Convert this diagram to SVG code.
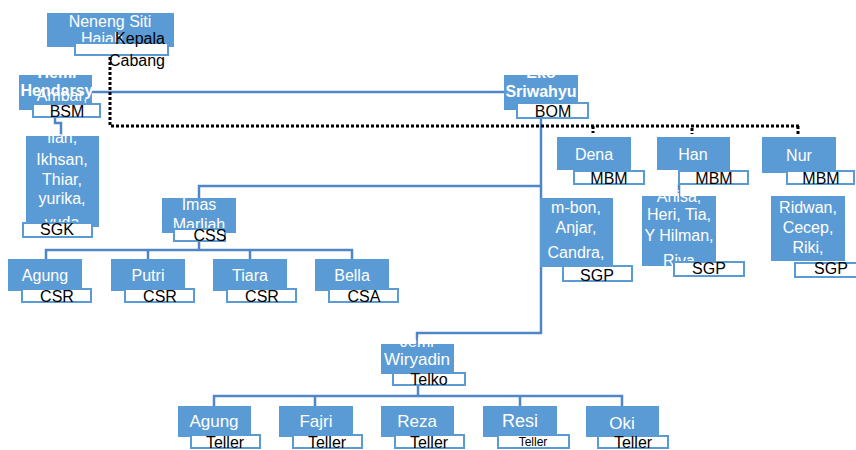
<svg xmlns="http://www.w3.org/2000/svg" width="856" height="450" viewBox="0 0 856 450">
<style>
.box{fill:#5B9BD5}
.lab{fill:#fff;stroke:#5B9BD5;stroke-width:2}
.nm{font-family:"Liberation Sans",Arial,sans-serif;font-size:16px;fill:#fff;text-anchor:middle}
.b{font-weight:bold}
.lt{font-family:"Liberation Sans",Arial,sans-serif;font-size:16px;fill:#000;text-anchor:middle}
.con{fill:none;stroke:#4F86C6;stroke-width:2.5}
.dot{fill:none;stroke:#000;stroke-width:3;stroke-dasharray:3 2}
</style>
<rect width="856" height="450" fill="#fff"/>
<g id="connectors">
<path class="con" d="M92 92 H504"/>
<path class="con" d="M541 118 V333 H417 V344"/>
<path class="con" d="M541 186 H199 V198"/>
<path class="con" d="M199 241 V250 M46 259 V250 H352 V259 M148 250 V259 M250 250 V259"/>
<path class="con" d="M418 385 V396 M214 406 V396 H622 V406 M315 396 V406 M520 396 V406"/>
<path class="con" d="M55 117 V123 H61 V136"/>
<path class="con" d="M679 184 V196"/>
<path class="dot" d="M110 57 V126 H800"/>
<path class="dot" d="M593 126 V133 M692 128 V134 M798 126 V134"/>
</g>
<g id="neneng">
<rect class="box" x="47" y="13" width="127" height="34"/>
<text class="nm" x="110" y="27">Neneng Siti</text>
<text class="nm" x="81" y="44" style="text-anchor:start">Hajah</text>
<rect class="lab" x="75" y="43" width="93" height="12"/>
<text class="lt" x="140" y="44">Kepala</text>
<text class="lt" x="137" y="66">Cabang</text>
</g>
<g id="hemi">
<rect class="box" x="19" y="75" width="73" height="35"/>
<text class="nm b" x="57" y="78">Hemi</text>
<text class="nm b" x="57" y="96">Hendarsy</text>
</g>
<g id="eko">
<rect class="box" x="504" y="75" width="74" height="35"/>
<text class="nm b" x="541" y="78">Eko</text>
<text class="nm b" x="541" y="97">Sriwahyu</text>
<rect class="lab" x="517" y="103" width="71" height="15"/>
<text class="lt" x="553" y="117">BOM</text>
</g>
<g id="sgk">
<rect class="box" x="26" y="136" width="73" height="91"/>
<text class="nm" x="62" y="101">Ambar,</text>
<text class="nm" x="62" y="143">Ilan,</text>
<text class="nm" x="62" y="165">Ikhsan,</text>
<text class="nm" x="62" y="185">Thiar,</text>
<text class="nm" x="62" y="204">yurika,</text>
<text class="nm" x="62" y="228">yuda</text>
<rect class="lab" x="23" y="223" width="69" height="14"/>
<text class="lt" x="57" y="235">SGK</text>
</g>
<g id="hemi-label">
<rect class="lab" x="33" y="104" width="67" height="13"/>
<text class="lt" x="67" y="117">BSM</text>
</g>
<g id="imas">
<rect class="box" x="162" y="198" width="74" height="35"/>
<text class="nm" x="199" y="210">Imas</text>
<text class="nm" x="199" y="230">Marliah</text>
<rect class="lab" x="174" y="229" width="51" height="12"/>
<text class="lt" x="210" y="241">CSS</text>
</g>
<g id="agung1">
<rect class="box" x="8" y="259" width="74" height="32"/>
<text class="nm" x="45" y="281">Agung</text>
<rect class="lab" x="22" y="289" width="69" height="13"/>
<text class="lt" x="57" y="302">CSR</text>
</g>
<g id="putri">
<rect class="box" x="111" y="259" width="74" height="32"/>
<text class="nm" x="148" y="281">Putri</text>
<rect class="lab" x="125" y="289" width="69" height="13"/>
<text class="lt" x="160" y="302">CSR</text>
</g>
<g id="tiara">
<rect class="box" x="213" y="259" width="74" height="32"/>
<text class="nm" x="250" y="281">Tiara</text>
<rect class="lab" x="227" y="289" width="69" height="13"/>
<text class="lt" x="262" y="302">CSR</text>
</g>
<g id="bella">
<rect class="box" x="315" y="259" width="74" height="32"/>
<text class="nm" x="352" y="281">Bella</text>
<rect class="lab" x="329" y="289" width="69" height="13"/>
<text class="lt" x="364" y="302">CSA</text>
</g>
<g id="dena">
<rect class="box" x="557" y="137" width="74" height="33"/>
<text class="nm" x="594" y="160">Dena</text>
<rect class="lab" x="574" y="171" width="70" height="13"/>
<text class="lt" x="609" y="184">MBM</text>
</g>
<g id="han">
<rect class="box" x="657" y="137" width="73" height="33"/>
<text class="nm" x="693" y="160">Han</text>
<rect class="lab" x="679" y="171" width="69" height="13"/>
<text class="lt" x="714" y="184">MBM</text>
</g>
<g id="nur">
<rect class="box" x="762" y="137" width="74" height="36"/>
<text class="nm" x="799" y="161">Nur</text>
<rect class="lab" x="787" y="171" width="67" height="13"/>
<text class="lt" x="821" y="184">MBM</text>
</g>
<g id="sgp-dena">
<rect class="box" x="540" y="198" width="73" height="69"/>
<text class="nm" x="576" y="213">m-bon,</text>
<text class="nm" x="576" y="233">Anjar,</text>
<text class="nm" x="576" y="258">Candra,</text>
<rect class="lab" x="563" y="266" width="69" height="15"/>
<text class="lt" x="597" y="281">SGP</text>
</g>
<g id="sgp-han">
<rect class="box" x="642" y="196" width="74" height="70"/>
<text class="nm" x="679" y="202">Anisa,</text>
<text class="nm" x="679" y="220">Heri, Tia,</text>
<text class="nm" x="679" y="241">Y Hilman,</text>
<text class="nm" x="679" y="266">Riva</text>
<rect class="lab" x="674" y="262" width="70" height="14"/>
<text class="lt" x="709" y="274">SGP</text>
</g>
<g id="sgp-nur">
<rect class="box" x="771" y="196" width="74" height="65"/>
<text class="nm" x="808" y="213">Ridwan,</text>
<text class="nm" x="808" y="233">Cecep,</text>
<text class="nm" x="808" y="253">Riki,</text>
<rect class="lab" x="795" y="263" width="72" height="14"/>
<text class="lt" x="831" y="274">SGP</text>
</g>
<g id="jemi">
<rect class="box" x="381" y="344" width="73" height="30"/>
<text class="nm" x="417" y="347">Jemi</text>
<text class="nm" x="417" y="365" style="font-size:17px">Wiryadin</text>
<rect class="lab" x="393" y="373" width="72" height="12"/>
<text class="lt" x="429" y="385">Telko</text>
</g>
<g id="agung2">
<rect class="box" x="178" y="406" width="73" height="31"/>
<text class="nm" x="214" y="427" style="font-size:17px">Agung</text>
<rect class="lab" x="191" y="435" width="69" height="13"/>
<text class="lt" x="225" y="448">Teller</text>
</g>
<g id="fajri">
<rect class="box" x="279" y="406" width="74" height="31"/>
<text class="nm" x="316" y="427" style="font-size:17px">Fajri</text>
<rect class="lab" x="293" y="435" width="69" height="13"/>
<text class="lt" x="327" y="448">Teller</text>
</g>
<g id="reza">
<rect class="box" x="381" y="406" width="73" height="31"/>
<text class="nm" x="417" y="427" style="font-size:17px">Reza</text>
<rect class="lab" x="395" y="435" width="69" height="13"/>
<text class="lt" x="429" y="448">Teller</text>
</g>
<g id="resi">
<rect class="box" x="483" y="406" width="74" height="31"/>
<text class="nm" x="520" y="427" style="font-size:18px">Resi</text>
<rect class="lab" x="498" y="435" width="71" height="13"/>
<text class="lt" x="533" y="446" style="font-size:12px">Teller</text>
</g>
<g id="oki">
<rect class="box" x="586" y="406" width="73" height="31"/>
<text class="nm" x="622" y="429" style="font-size:17px">Oki</text>
<rect class="lab" x="598" y="436" width="70" height="12"/>
<text class="lt" x="633" y="448">Teller</text>
</g>
</svg>
